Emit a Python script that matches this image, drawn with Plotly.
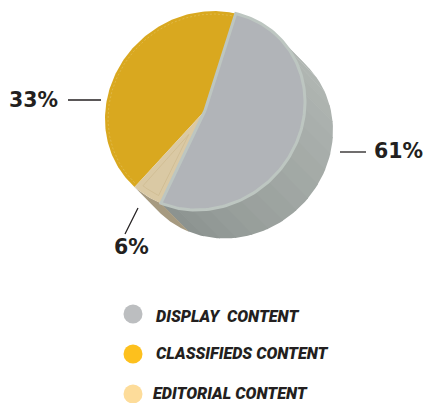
import numpy as np
import plotly.graph_objects as go

# Chart data
categories = ["DISPLAY\u00a0\u00a0CONTENT", "EDITORIAL CONTENT", "CLASSIFIEDS CONTENT"]
shares = [61, 6, 33]
share_labels = ["61%", "6%", "33%"]

# Disc projection, in page pixels
CENTER = (205.0, 110.5)
AXES = ((100.0, 0.0), (-8.5, 99.1))
DEPTH = (28.0, 28.5)
VIEW_SKEW = 0.195 * np.exp(1j * np.radians(68.0))  # oblique view enlarges the far side
ROTATION = np.radians(-84.5)

FACE = {"DISPLAY": "#b1b4b8", "EDITORIAL": "#dac9a4", "CLASSIFIEDS": "#d9a81f"}
RIM = "#bdc6c1"
INK = "#231f20"


def view_angle(theta):
    z = np.exp(1j * theta)
    return np.angle((z + VIEW_SKEW) / (1 + np.conj(VIEW_SKEW) * z))


def rim_point(t, scale=1.0):
    x = CENTER[0] + scale * (AXES[0][0] * np.cos(t) + AXES[0][1] * np.sin(t))
    y = CENTER[1] + scale * (AXES[1][0] * np.cos(t) + AXES[1][1] * np.sin(t))
    return x, y


def arc(start, end, n=120, scale=1.0):
    return rim_point(np.linspace(start, end, n), scale)


# Slice limits follow from the shares, carried through the oblique view
edges = ROTATION + np.radians(np.cumsum([0] + shares) * 3.6)
limits = view_angle(edges)
for i in range(1, len(limits)):
    while limits[i] < limits[i - 1]:
        limits[i] += 2 * np.pi
fig = go.Figure()


def polygon(x, y, fill, line=None, width=0):
    fig.add_trace(go.Scatter(
        x=x, y=y, mode="lines", fill="toself", fillcolor=fill,
        line=dict(color=line or fill, width=width if line else 0),
        hoverinfo="skip", showlegend=False))


# Extruded wall: narrow facets shading from light to dark around the rim
wall_start = np.radians(-52.0)
facets = np.linspace(wall_start, limits[1], 19)
light, dark = np.array([178, 184, 180]), np.array([140, 147, 144])
for i, (a, b) in enumerate(zip(facets[:-1], facets[1:])):
    rx, ry = arc(a, b + 0.01, 12)
    mix = (i / (len(facets) - 2)) ** 1.4
    c = light + (dark - light) * mix
    polygon(np.r_[rx, rx[::-1] + DEPTH[0]], np.r_[ry, ry[::-1] + DEPTH[1]],
            f"rgb({c[0]:.0f},{c[1]:.0f},{c[2]:.0f})")
rx, ry = arc(limits[1], limits[2] + 0.03, 20)
polygon(np.r_[rx, rx[::-1] + DEPTH[0]], np.r_[ry, ry[::-1] + DEPTH[1]], "#a69a80")

# Top faces
cx, cy = CENTER
x, y = arc(limits[2], limits[3])
polygon(np.r_[cx, x, cx], np.r_[cy, y, cy], FACE["CLASSIFIEDS"])
x, y = arc(limits[1], limits[2])
polygon(np.r_[cx, x, cx], np.r_[cy, y, cy], FACE["EDITORIAL"])
x, y = arc(limits[0], limits[1])
polygon(np.r_[cx, x, cx], np.r_[cy, y, cy], FACE["DISPLAY"], RIM, 3)

# Fine pale inset stitched just inside the rim
x, y = arc(limits[2] + 0.03, limits[3] - 0.02, scale=0.97)
fig.add_trace(go.Scatter(x=x, y=y, mode="lines",
                         line=dict(color="#e3c263", width=0.6, dash="2px,2px"),
                         hoverinfo="skip", showlegend=False))
x, y = arc(limits[1] + 0.06, limits[2] - 0.06, 12, scale=0.94)
inner = rim_point(np.array([(limits[1] + limits[2]) / 2]), 0.28)
fig.add_trace(go.Scatter(x=np.r_[inner[0], x, inner[0]], y=np.r_[inner[1], y, inner[1]],
                         mode="lines", line=dict(color="#cdb98e", width=0.7),
                         hoverinfo="skip", showlegend=False))

# Key dots
dot_colors = ["#bcbec0", "#fdc01d", "#fddc9a"]
key_order = [0, 2, 1]
key_y = [314, 354, 394]
text_y = [316, 353, 393.5]
text_x = [153.5, 153.5, 151]
fig.add_trace(go.Scatter(x=[133, 133, 133], y=key_y, mode="markers",
                         marker=dict(size=19, color=dot_colors, line=dict(width=0)),
                         hoverinfo="skip", showlegend=False))
annotations = [
    dict(x=tx, y=ty, text=categories[i], xanchor="left", showarrow=False,
         font=dict(family="Roboto", size=16.2, color=INK, weight=900, style="italic"))
    for i, ty, tx in zip(key_order, text_y, text_x)
]

# Percentage callouts
label_pos = [(398.5, 150.5), (131.5, 247), (33, 100)]
for text, (lx, ly) in zip(share_labels, label_pos):
    annotations.append(dict(x=lx, y=ly, text=text, showarrow=False,
                            font=dict(family="DejaVu Sans", size=20.5, color=INK, weight=700)))
leaders = [((340, 152), (366, 152)), ((138, 208), (125, 234)), ((68, 100), (101, 100))]
shapes = [dict(type="line", x0=a[0], y0=a[1], x1=b[0], y1=b[1],
               line=dict(color=INK, width=1.3)) for a, b in leaders]

fig.update_layout(
    width=423, height=403, margin=dict(l=0, r=0, t=0, b=0),
    paper_bgcolor="white", plot_bgcolor="white", showlegend=False,
    xaxis=dict(range=[0, 423], visible=False, fixedrange=True),
    yaxis=dict(range=[403, 0], visible=False, fixedrange=True),
    annotations=annotations, shapes=shapes,
)
fig.write_html("out.html", config={"displayModeBar": False})
